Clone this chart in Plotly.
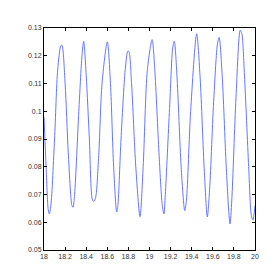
import plotly.graph_objects as go

x_vals = [18.0, 18.02, 18.04, 18.05, 18.065, 18.10, 18.13, 18.16, 18.17, 18.20, 18.23, 18.265, 18.275, 18.29,
          18.33, 18.36, 18.376, 18.40, 18.43, 18.46, 18.474, 18.49, 18.52, 18.55, 18.60, 18.63, 18.66, 18.689,
          18.70, 18.73, 18.77, 18.795, 18.805, 18.83, 18.87, 18.91, 18.94, 18.98, 19.025, 19.05, 19.09, 19.12,
          19.137, 19.15, 19.19, 19.22, 19.235, 19.26, 19.30, 19.334, 19.35, 19.39, 19.447, 19.48, 19.52, 19.548,
          19.57, 19.61, 19.645, 19.66, 19.69, 19.73, 19.763, 19.78, 19.82, 19.86, 19.875, 19.90, 19.94, 19.965,
          19.98, 20.0]
y_vals = [0.098, 0.080, 0.0645, 0.063, 0.066, 0.090, 0.115, 0.1236, 0.1238, 0.110, 0.085, 0.066, 0.0654, 0.070,
          0.100, 0.120, 0.1252, 0.113, 0.090, 0.068, 0.0675, 0.069, 0.085, 0.110, 0.125, 0.110, 0.080, 0.0637,
          0.066, 0.090, 0.115, 0.1217, 0.1215, 0.110, 0.080, 0.062, 0.080, 0.115, 0.1258, 0.115, 0.085, 0.0665,
          0.063, 0.070, 0.101, 0.1228, 0.1252, 0.113, 0.080, 0.0642, 0.068, 0.100, 0.1279, 0.112, 0.078, 0.0619,
          0.072, 0.105, 0.1245, 0.1266, 0.112, 0.078, 0.0594, 0.068, 0.105, 0.1292, 0.128, 0.113, 0.080, 0.0625,
          0.0608, 0.066]

x_ticks = [18, 18.2, 18.4, 18.6, 18.8, 19, 19.2, 19.4, 19.6, 19.8, 20]
x_labels = ["18", "18.2", "18.4", "18.6", "18.8", "19", "19.2", "19.4", "19.6", "19.8", "20"]
y_ticks = [0.05, 0.06, 0.07, 0.08, 0.09, 0.10, 0.11, 0.12, 0.13]
y_labels = ["0.05", "0.06", "0.07", "0.08", "0.09", "0.1", "0.11", "0.12", "0.13"]

fig = go.Figure(go.Scatter(x=x_vals, y=y_vals, mode="lines",
                           line=dict(color="rgb(100,120,255)", width=1, shape="spline", smoothing=0.8)))

axis_common = dict(showline=True, linecolor="black", linewidth=1, mirror="ticks", ticks="inside",
                   ticklen=3, tickcolor="black", showgrid=False, zeroline=False,
                   tickfont=dict(family="Liberation Sans, Arial", size=7, color="#333"))
fig.update_xaxes(range=[18, 20], tickvals=x_ticks, ticktext=x_labels, **axis_common)
fig.update_yaxes(range=[0.05, 0.13], tickvals=y_ticks, ticktext=y_labels, **axis_common)
fig.update_layout(width=273, height=273, margin=dict(l=36, r=26, t=20, b=31),
                  plot_bgcolor="white", paper_bgcolor="white", showlegend=False)
fig.write_html("out.html")
